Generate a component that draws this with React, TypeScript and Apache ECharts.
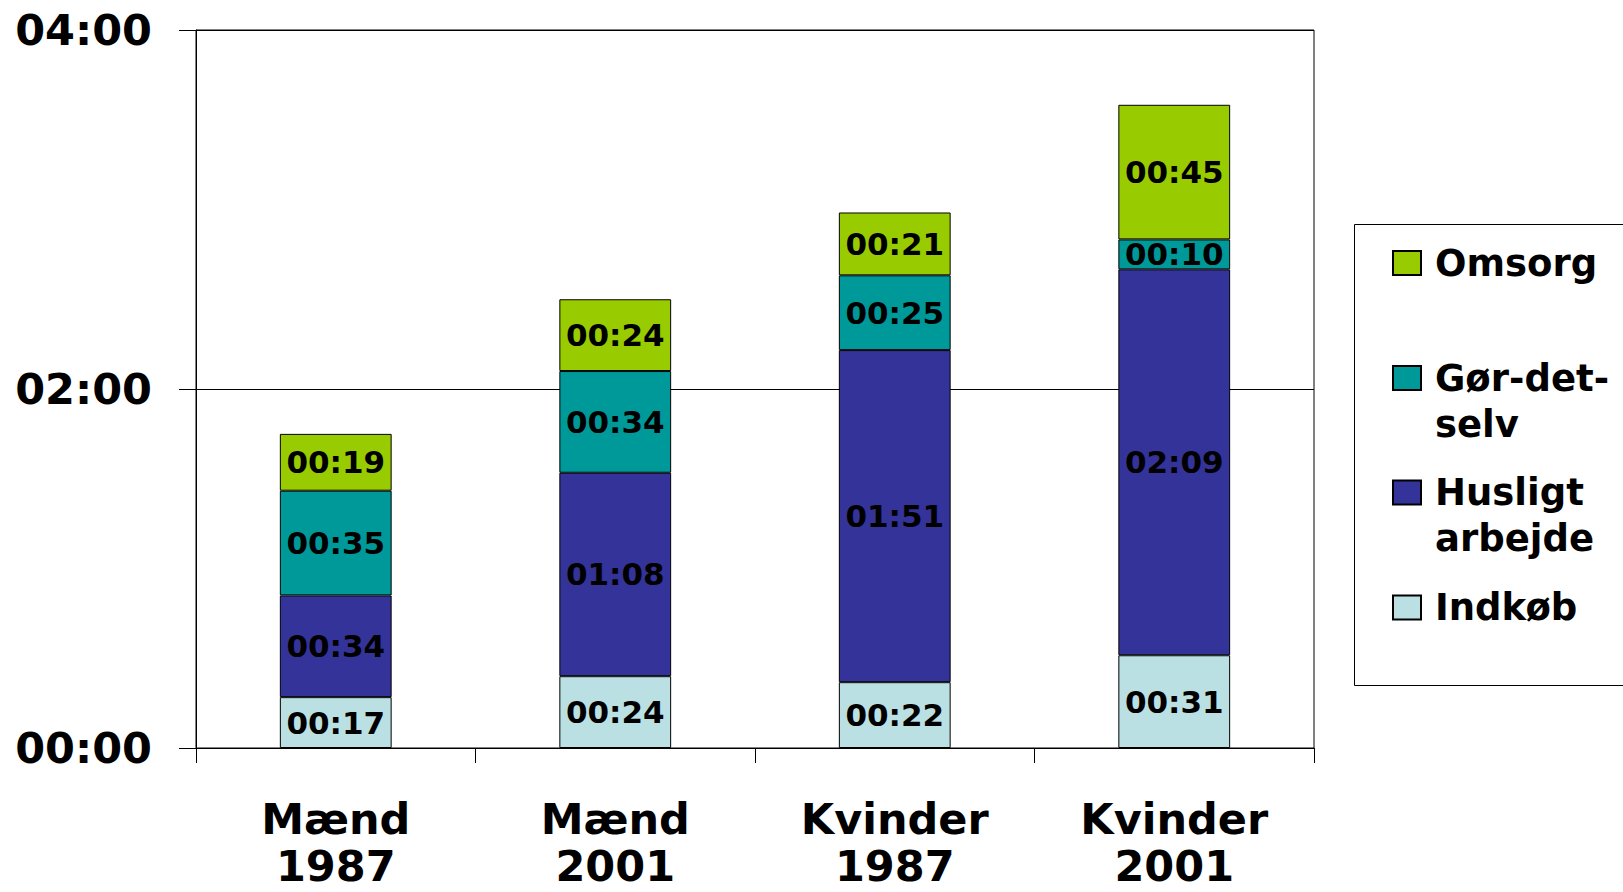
import React, { useEffect, useRef } from "react";
import * as echarts from "echarts";

const categories = ["Mænd\n1987", "Mænd\n2001", "Kvinder\n1987", "Kvinder\n2001"];
const indkob = [17, 24, 22, 31];
const husligt = [34, 68, 111, 129];
const gorDetSelv = [35, 34, 25, 10];
const omsorg = [19, 24, 21, 45];
const yTicks = [0, 120, 240];

const fmt = (m: number) => {
  const h = Math.floor(m / 60);
  const mm = Math.round(m % 60);
  return String(h).padStart(2, "0") + ":" + String(mm).padStart(2, "0");
};

export default function App() {
  const ref = useRef<HTMLDivElement>(null);
  useEffect(() => {
    const chart = echarts.init(ref.current!, undefined, { renderer: "svg" });
    const labelStyle = {
      show: true,
      position: "inside",
      color: "#000",
      fontFamily: "DejaVu Sans",
      fontWeight: "bold",
      fontSize: 31,
      formatter: (p: any) => fmt(p.value),
    };
    const mk = (name: string, data: number[], color: string) => ({
      name,
      type: "bar",
      stack: "t",
      data,
      barWidth: "40%",
      itemStyle: { color, borderColor: "#000", borderWidth: 1 },
      label: labelStyle,
    });
    const legendBase = (name: string, top: number, text: string) => ({
      data: [name],
      orient: "vertical",
      left: 1392,
      top,
      padding: 0,
      itemWidth: 28,
      itemHeight: 24,
      icon: "rect",
      selectedMode: false,
      formatter: () => text,
      textStyle: {
        color: "#000",
        fontFamily: "DejaVu Sans",
        fontWeight: "bold",
        fontSize: 37,
        lineHeight: 46,
        padding: [0, 0, 0, 9],
      },
    });
    const textStyleX = {
      color: "#000",
      fontFamily: "DejaVu Sans",
      fontWeight: "bold",
      fontSize: 43,
    };
    chart.setOption({
      animation: false,
      backgroundColor: "#fff",
      grid: {
        left: 196,
        right: 309,
        top: 30,
        bottom: 144,
        show: true,
        borderColor: "#000",
        borderWidth: 1,
        containLabel: false,
        outerBoundsMode: "none",
      },
      legend: [
        legendBase("Omsorg", 240, "Omsorg"),
        legendBase("Gør-det-selv", 309, " \nGør-det-\nselv"),
        legendBase("Husligt arbejde", 423.5, " \nHusligt\narbejde"),
        legendBase("Indkøb", 584.5, "Indkøb"),
      ],
      graphic: [
        {
          type: "rect",
          shape: { x: 1354.5, y: 224.5, width: 320, height: 461 },
          style: { fill: "none", stroke: "#000", lineWidth: 1 },
          silent: true,
        },
      ],
      xAxis: {
        type: "category",
        data: categories,
        axisLine: { show: true, lineStyle: { color: "#000", width: 1 } },
        axisTick: { show: true, length: 15, alignWithLabel: false, lineStyle: { color: "#000" } },
        axisLabel: {
          color: "#000",
          fontFamily: "DejaVu Sans",
          fontWeight: "bold",
          fontSize: 43,
          margin: 42,
          interval: 0,
          formatter: (v: string) => {
            const [a, b] = v.split("\n");
            return "{a|" + a + "}\n{b|" + b + "}";
          },
          rich: {
            a: { ...textStyleX, lineHeight: 58 },
            b: { ...textStyleX, lineHeight: 36 },
          },
        },
      },
      yAxis: {
        type: "value",
        min: yTicks[0],
        max: yTicks[yTicks.length - 1],
        interval: 120,
        axisLine: { show: true, lineStyle: { color: "#000", width: 1 } },
        axisTick: { show: true, length: 17, lineStyle: { color: "#000" } },
        splitLine: { show: true, lineStyle: { color: "#000", width: 1 } },
        axisLabel: {
          color: "#000",
          fontFamily: "DejaVu Sans",
          fontWeight: "bold",
          fontSize: 43,
          margin: 44,
          formatter: (v: number) => fmt(v),
        },
      },
      series: [
        mk("Indkøb", indkob, "#BBE0E3"),
        mk("Husligt arbejde", husligt, "#333399"),
        mk("Gør-det-selv", gorDetSelv, "#009999"),
        mk("Omsorg", omsorg, "#99CC00"),
      ],
    });
    return () => chart.dispose();
  }, []);
  return (
    <div
      ref={ref}
      style={{ position: "absolute", left: 0, top: 0, width: 1623, height: 892 }}
    />
  );
}
